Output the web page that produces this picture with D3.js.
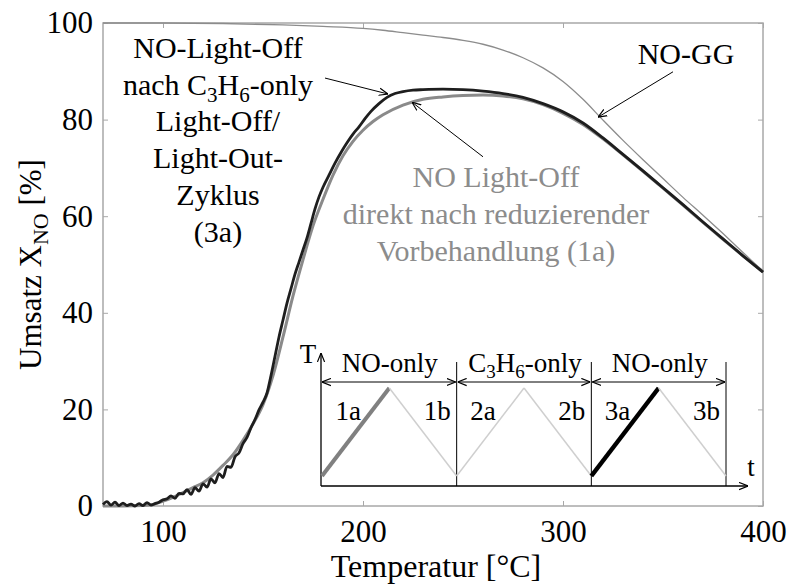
<!DOCTYPE html>
<html>
<head>
<meta charset="utf-8">
<script src="https://cdn.jsdelivr.net/npm/d3@7"></script>
<style>
  body { margin: 0; background: #fff; }
  svg { display: block; }
</style>
</head>
<body>
<div id="chart"></div>
<script>
// NO-GG (equilibrium), thin grey
const ggTemp = [70, 100, 130, 160, 180, 200, 210, 220, 230, 240, 250, 260, 270, 280, 290, 300, 310, 320, 330, 340, 350, 360, 370, 380, 390, 400];
const ggConv = [100, 100, 99.9, 99.6, 99.3, 98.9, 98.5, 98.0, 97.5, 97.0, 96.4, 95.6, 94.4, 92.8, 90.7, 87.9, 84.2, 79.9, 75.7, 71.7, 67.8, 63.9, 60.2, 56.4, 52.5, 48.6];

// (3a) NO light-off after C3H6-only cycle, black
const blackTemp = [70, 72, 74, 76, 78, 80, 82, 84, 86, 88, 90, 92, 94, 96, 98, 100, 102, 104, 106, 108, 110, 112, 114, 116, 118, 120, 122, 124, 126, 128, 130, 132, 134, 136, 138, 140, 142, 144, 146, 148, 150, 152, 154, 156, 158, 160, 162, 164, 166, 168, 170, 172, 174, 176, 178, 180, 183, 186, 189, 192, 195, 198, 201, 204, 208, 212, 216, 220, 225, 230, 240, 250, 260, 270, 280, 290, 300, 310, 320, 330, 340, 350, 360, 370, 380, 390, 400];
const blackConv = [0.3, 0.9, 0.2, 0.8, 0.1, 0.6, 0.1, 0.4, 0.0, 0.5, 0.1, 0.7, 0.2, 0.5, 0.8, 1.3, 1.5, 2.1, 1.6, 2.6, 2.5, 3.4, 2.4, 3.8, 3.1, 4.6, 3.9, 5.6, 4.8, 6.7, 5.9, 8.2, 8.0, 10.2, 11.0, 12.9, 14.2, 16.2, 17.9, 19.9, 21.5, 23.4, 27.0, 31.0, 35.0, 38.5, 42.0, 45.0, 48.0, 50.5, 53.0, 55.5, 58.5, 61.5, 64.0, 66.0, 68.5, 71.0, 73.2, 75.2, 77.0, 78.5, 80.2, 81.7, 83.3, 84.6, 85.4, 85.8, 86.1, 86.2, 86.3, 86.2, 85.9, 85.4, 84.6, 83.3, 81.6, 79.3, 76.2, 72.8, 69.4, 65.9, 62.4, 58.8, 55.3, 51.8, 48.4];

// (1a) NO light-off directly after reducing pretreatment, grey
const greyTemp = [70, 80, 90, 95, 100, 105, 110, 115, 120, 125, 130, 135, 140, 145, 150, 155, 160, 165, 170, 175, 180, 185, 190, 195, 200, 205, 210, 220, 230, 240, 250, 260, 270, 280, 290, 300, 310, 320, 330, 340, 350, 360, 370, 380, 390, 400];
const greyConv = [0.0, 0.0, 0.1, 0.3, 1.0, 1.8, 2.8, 3.8, 4.8, 6.4, 8.4, 10.6, 13.6, 17.0, 21.0, 27.0, 35.0, 43.5, 51.0, 58.0, 63.5, 68.5, 72.5, 75.5, 77.8, 79.6, 81.0, 83.0, 84.2, 84.7, 85.0, 85.1, 84.9, 84.3, 83.1, 81.3, 79.0, 76.0, 72.7, 69.3, 65.8, 62.3, 58.7, 55.2, 51.8, 48.5];

const xTicks = [100, 200, 300, 400];
const yTicks = [0, 20, 40, 60, 80, 100];

// inset schematic: three phases, each a heat-up (a) and cool-down (b) ramp
const phases = ["NO-only", "C3H6-only", "NO-only"];
const rampLabels = ["1a", "1b", "2a", "2b", "3a", "3b"];
const rampTime = [0, 1, 2, 3, 4, 5, 6];
const rampLevel = [0, 1, 0, 1, 0, 1, 0];

const width = 788;
const height = 587;
const serif = "'Liberation Serif', 'Times New Roman', Times, serif";

const svg = d3.select("#chart")
    .append("svg")
    .attr("width", width)
    .attr("height", height)
    .attr("font-family", serif);

const x = d3.scaleLinear().domain([70, 400]).range([103, 763]);
const y = d3.scaleLinear().domain([0, 100]).range([506, 23]);

const axisColor = "#a8a8a8";

// markers
const defs = svg.append("defs");
defs.append("marker")
    .attr("id", "head")
    .attr("viewBox", "0 0 10 10")
    .attr("refX", 10).attr("refY", 5)
    .attr("markerWidth", 9).attr("markerHeight", 9)
    .attr("markerUnits", "userSpaceOnUse")
    .attr("orient", "auto-start-reverse")
    .append("path")
    .attr("d", "M0,1 L10,5 L0,9")
    .attr("fill", "none")
    .attr("stroke", "#000")
    .attr("stroke-width", 1.3);

// plot box
svg.append("rect")
    .attr("x", x(70)).attr("y", y(100))
    .attr("width", x(400) - x(70)).attr("height", y(0) - y(100))
    .attr("fill", "none")
    .attr("stroke", axisColor)
    .attr("stroke-width", 1.5);

// axes with inward ticks
const fontSize = 30;
function styleAxis(g) {
    g.attr("font-family", serif).attr("font-size", 31);
    g.select(".domain").remove();
    g.selectAll(".tick line").attr("stroke", axisColor);
    g.selectAll("text").attr("fill", "#000");
}
svg.append("g")
    .attr("transform", `translate(0,${y(0)})`)
    .call(d3.axisBottom(x).tickValues(xTicks).tickSize(-5).tickPadding(14))
    .call(styleAxis);

svg.append("g")
    .attr("transform", `translate(0,${y(100)})`)
    .call(d3.axisTop(x).tickValues(xTicks).tickSize(-5).tickFormat(""))
    .call(styleAxis);

svg.append("g")
    .attr("transform", `translate(${x(70)},0)`)
    .call(d3.axisLeft(y).tickValues(yTicks).tickSize(-5).tickPadding(10))
    .call(styleAxis);

svg.append("g")
    .attr("transform", `translate(${x(400)},0)`)
    .call(d3.axisRight(y).tickValues(yTicks).tickSize(-5).tickFormat(""))
    .call(styleAxis);

// axis titles
svg.append("text")
    .attr("x", (x(70) + x(400)) / 2 + 3)
    .attr("y", 577)
    .attr("text-anchor", "middle")
    .attr("font-size", 32)
    .text("Temperatur [°C]");

const yTitle = svg.append("text")
    .attr("transform", `translate(41,${(y(0) + y(100)) / 2}) rotate(-90)`)
    .attr("text-anchor", "middle")
    .attr("font-size", 31);
yTitle.append("tspan").text("Umsatz X");
yTitle.append("tspan").attr("dy", 7).attr("font-size", 22).text("NO");
yTitle.append("tspan").attr("dy", -7).text(" [%]");

// curves
const line = d3.line()
    .x(d => x(d[0]))
    .y(d => y(d[1]))
    .curve(d3.curveMonotoneX);

svg.append("path")
    .datum(d3.zip(ggTemp, ggConv))
    .attr("d", line)
    .attr("fill", "none")
    .attr("stroke", "#8c8c8c")
    .attr("stroke-width", 1.3);

svg.append("path")
    .datum(d3.zip(greyTemp, greyConv))
    .attr("d", line)
    .attr("fill", "none")
    .attr("stroke", "#8a8a8a")
    .attr("stroke-width", 3);

svg.append("path")
    .datum(d3.zip(blackTemp, blackConv))
    .attr("d", line)
    .attr("fill", "none")
    .attr("stroke", "#1e1e1e")
    .attr("stroke-width", 2.8);

// annotations (positions in data units)
function arrow(from, to) {
    svg.append("line")
        .attr("x1", x(from[0])).attr("y1", y(from[1]))
        .attr("x2", x(to[0])).attr("y2", y(to[1]))
        .attr("stroke", "#000")
        .attr("stroke-width", 1)
        .attr("marker-end", "url(#head)");
}

const blackNote = svg.append("text")
    .attr("text-anchor", "middle")
    .attr("font-size", fontSize)
    .attr("fill", "#000");
const blackLines = ["NO-Light-Off", null, "Light-Off/", "Light-Out-", "Zyklus", "(3a)"];
blackLines.forEach((t, i) => {
    const ts = blackNote.append("tspan").attr("x", x(127.5)).attr("y", y(92.8) + i * 36.8);
    if (t) ts.text(t);
    else {
        ts.text("nach C");
        blackNote.append("tspan").attr("dy", 7).attr("font-size", 21).text("3");
        blackNote.append("tspan").attr("dy", -7).text("H");
        blackNote.append("tspan").attr("dy", 7).attr("font-size", 21).text("6");
        blackNote.append("tspan").attr("dy", -7).text("-only");
    }
});
arrow([181, 88.6], [212.5, 85.3]);

svg.append("text")
    .attr("x", x(361.5)).attr("y", y(91.5))
    .attr("text-anchor", "middle")
    .attr("font-size", fontSize)
    .text("NO-GG");
arrow([355, 89.9], [317.5, 80.5]);

const greyNote = svg.append("text")
    .attr("text-anchor", "middle")
    .attr("font-size", fontSize)
    .attr("fill", "#8c8c8c");
["NO Light-Off", "direkt nach reduzierender", "Vorbehandlung (1a)"].forEach((t, i) => {
    greyNote.append("tspan").attr("x", x(266.5)).attr("y", y(66) + i * 37).text(t);
});
arrow([260, 72.3], [224.5, 83.6]);

// inset schematic
const tx = d3.scaleLinear().domain([0, 6]).range([322, 726]);
const ty = d3.scaleLinear().domain([0, 1]).range([476, 388]);
const inset = svg.append("g");
const insetSize = 27;

inset.append("line")
    .attr("x1", 321).attr("y1", 486).attr("x2", 321).attr("y2", 353)
    .attr("stroke", "#000").attr("stroke-width", 1.3)
    .attr("marker-end", "url(#head)");
inset.append("line")
    .attr("x1", 321).attr("y1", 486).attr("x2", 748).attr("y2", 486)
    .attr("stroke", "#000").attr("stroke-width", 1.3)
    .attr("marker-end", "url(#head)");
inset.append("text").attr("x", 308).attr("y", 363).attr("text-anchor", "middle")
    .attr("font-size", insetSize).text("T");
inset.append("text").attr("x", 751).attr("y", 476).attr("text-anchor", "middle")
    .attr("font-size", insetSize).text("t");

// phase dividers
[2, 4, 6].forEach(t => {
    inset.append("line")
        .attr("x1", tx(t)).attr("x2", tx(t))
        .attr("y1", 362).attr("y2", 486)
        .attr("stroke", "#000").attr("stroke-width", 1);
});

// phase spans and labels
phases.forEach((p, i) => {
    const a = i === 0 ? 321 : tx(i * 2);
    const b = tx(i * 2 + 2);
    inset.append("line")
        .attr("x1", a + 1).attr("x2", b - 1)
        .attr("y1", 382).attr("y2", 382)
        .attr("stroke", "#000").attr("stroke-width", 1)
        .attr("marker-start", "url(#head)")
        .attr("marker-end", "url(#head)");
    const lbl = inset.append("text")
        .attr("x", (a + b) / 2 + 1).attr("y", 372)
        .attr("text-anchor", "middle")
        .attr("font-size", insetSize);
    if (p === "C3H6-only") {
        lbl.append("tspan").text("C");
        lbl.append("tspan").attr("dy", 6).attr("font-size", 19).text("3");
        lbl.append("tspan").attr("dy", -6).text("H");
        lbl.append("tspan").attr("dy", 6).attr("font-size", 19).text("6");
        lbl.append("tspan").attr("dy", -6).text("-only");
    } else {
        lbl.text(p);
    }
});

// temperature ramps
const ramps = d3.range(6).map(i => ({
    p0: [rampTime[i], rampLevel[i]],
    p1: [rampTime[i + 1], rampLevel[i + 1]],
    label: rampLabels[i]
}));
ramps.forEach(r => {
    let stroke = "#cfcfcf", sw = 1.5;
    if (r.label === "1a") { stroke = "#808080"; sw = 4; }
    if (r.label === "3a") { stroke = "#000"; sw = 4.5; }
    inset.append("line")
        .attr("x1", tx(r.p0[0])).attr("y1", ty(r.p0[1]))
        .attr("x2", tx(r.p1[0])).attr("y2", ty(r.p1[1]))
        .attr("stroke", stroke).attr("stroke-width", sw);
});
ramps.forEach((r, i) => {
    const lx = i % 2 === 0 ? tx(r.p0[0] + 0.39) : tx(r.p0[0] + 0.71);
    inset.append("text")
        .attr("x", lx).attr("y", 420)
        .attr("text-anchor", "middle")
        .attr("font-size", insetSize)
        .text(r.label);
});
</script>
</body>
</html>
